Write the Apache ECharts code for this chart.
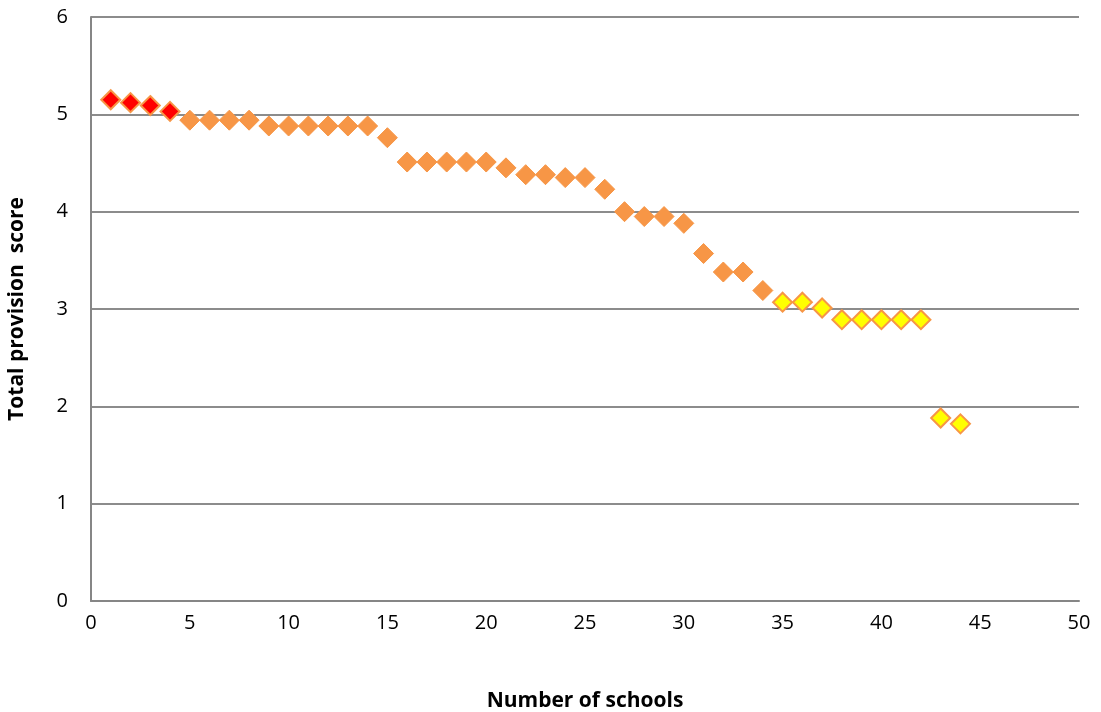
<!DOCTYPE html>
<html>
<head>
<meta charset="utf-8">
<script src="https://cdn.jsdelivr.net/npm/echarts@6/dist/echarts.min.js"></script>
<style>
  html, body { margin: 0; padding: 0; background: #ffffff; }
  #chart { width: 1101px; height: 712px; }
</style>
</head>
<body>
<div id="chart"></div>
<script>
// School rank (x) and total provision score (y), split into three bands
const topSchools = [1, 2, 3, 4];
const topScores = [5.15, 5.12, 5.09, 5.03];

const midSchools = [5, 6, 7, 8, 9, 10, 11, 12, 13, 14, 15, 16, 17, 18, 19, 20,
  21, 22, 23, 24, 25, 26, 27, 28, 29, 30, 31, 32, 33, 34];
const midScores = [4.94, 4.94, 4.94, 4.94, 4.88, 4.88, 4.88, 4.88, 4.88, 4.88,
  4.76, 4.51, 4.51, 4.51, 4.51, 4.51, 4.45, 4.38, 4.38, 4.35, 4.35, 4.23,
  4.00, 3.95, 3.95, 3.88, 3.57, 3.38, 3.38, 3.19];

const lowSchools = [35, 36, 37, 38, 39, 40, 41, 42, 43, 44];
const lowScores = [3.07, 3.07, 3.01, 2.89, 2.89, 2.89, 2.89, 2.89, 1.88, 1.82];

const xTicks = [0, 5, 10, 15, 20, 25, 30, 35, 40, 45, 50];
const yTicks = [0, 1, 2, 3, 4, 5, 6];

const pairs = (xs, ys) => xs.map((x, i) => [x, ys[i]]);
const font = '"Open Sans", Lato, sans-serif';

const chart = echarts.init(document.getElementById('chart'), null, { renderer: 'canvas' });
chart.setOption({
  animation: false,
  backgroundColor: '#ffffff',
  grid: {
    left: 91, right: 22, top: 17, bottom: 111,
    containLabel: false,
    outerBoundsMode: 'none'
  },
  xAxis: {
    type: 'value',
    min: xTicks[0],
    max: xTicks[xTicks.length - 1],
    interval: 5,
    name: 'Number of schools',
    nameLocation: 'middle',
    nameGap: 90,
    nameTextStyle: { fontFamily: font, fontSize: 21, fontWeight: 'bold', color: '#000' },
    axisLine: { show: true, lineStyle: { color: '#868686', width: 2 } },
    axisTick: { show: false },
    splitLine: { show: false },
    axisLabel: { fontFamily: font, fontSize: 20, color: '#000', margin: 12 }
  },
  yAxis: {
    type: 'value',
    min: yTicks[0],
    max: yTicks[yTicks.length - 1],
    interval: 1,
    name: 'Total provision  score',
    nameLocation: 'middle',
    nameGap: 63,
    nameRotate: 90,
    nameTextStyle: { fontFamily: font, fontSize: 21, fontWeight: 'bold', color: '#000' },
    axisLine: { show: true, lineStyle: { color: '#868686', width: 2 } },
    axisTick: { show: false },
    splitLine: { show: true, lineStyle: { color: '#8c8c8c', width: 2 } },
    axisLabel: { fontFamily: font, fontSize: 20, color: '#000', margin: 23 }
  },
  series: [
    {
      type: 'scatter',
      symbol: 'diamond',
      symbolSize: 20,
      data: pairs(midSchools, midScores),
      itemStyle: { color: '#F79646', borderColor: '#F79646', borderWidth: 1, opacity: 1 },
      z: 2
    },
    {
      type: 'scatter',
      symbol: 'diamond',
      symbolSize: 19,
      data: pairs(topSchools, topScores),
      itemStyle: { color: '#FF0000', borderColor: '#F79646', borderWidth: 2, opacity: 1 },
      z: 3
    },
    {
      type: 'scatter',
      symbol: 'diamond',
      symbolSize: 19,
      data: pairs(lowSchools, lowScores),
      itemStyle: { color: '#FFFF00', borderColor: '#F79646', borderWidth: 2, opacity: 1 },
      z: 3
    }
  ]
});
</script>
</body>
</html>
